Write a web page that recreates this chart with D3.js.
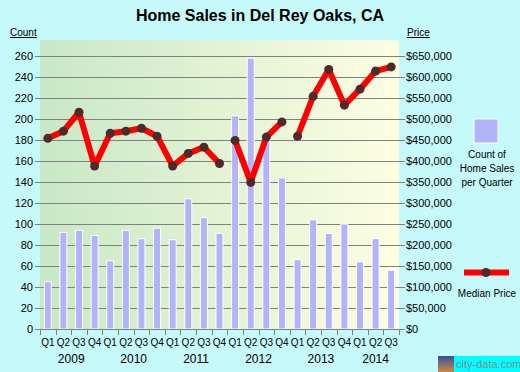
<!DOCTYPE html>
<html>
<head>
<meta charset="utf-8">
<script src="https://cdn.jsdelivr.net/npm/d3@7"></script>
<style>
  html, body { margin: 0; padding: 0; background: #c6f9f9; }
  svg { display: block; font-family: Arial, "Liberation Sans", sans-serif; }
</style>
</head>
<body>
<div id="chart"></div>
<script>
// Quarterly home sales, Del Rey Oaks CA (2009 Q1 .. 2014 Q3)
const years = ['2009', '2010', '2011', '2012', '2013', '2014'];
const quarterLabels = ['Q1','Q2','Q3','Q4','Q1','Q2','Q3','Q4','Q1','Q2','Q3','Q4',
  'Q1','Q2','Q3','Q4','Q1','Q2','Q3','Q4','Q1','Q2','Q3'];
const quarterYears = [
  '2009','2009','2009','2009','2010','2010','2010','2010','2011','2011','2011','2011',
  '2012','2012','2012','2012','2013','2013','2013','2013','2014','2014','2014'];
const salesCount = [45, 92, 94, 89, 65, 94, 86, 96, 85, 124, 106, 91,
  203, 258, 183, 144, 66, 104, 91, 100, 64, 86, 56];
const medianPrice = [454000, 471000, 516000, 388000, 466000, 471000, 478000, 459000,
  388000, 418000, 433000, 394000, 449000, 349000, 457000, 493000,
  459000, 554000, 618000, 533000, 571000, 614000, 624000];
// the price line is broken before these quarters
const priceSegmentStarts = [0, 12, 16];
const countTicks = d3.range(0, 261, 20);
const priceTicks = d3.range(0, 650001, 50000);

const width = 520, height = 372;
const plot = { left: 40, right: 399, top: 40, bottom: 329 };

const svg = d3.select('#chart').append('svg')
  .attr('width', width)
  .attr('height', height);

// Plot background gradient (green -> pale yellow)
const defs = svg.append('defs');
const grad = defs.append('linearGradient')
  .attr('id', 'bg-grad')
  .attr('x1', '0%').attr('x2', '100%')
  .attr('y1', '0%').attr('y2', '0%');
grad.append('stop').attr('offset', '0%').attr('stop-color', '#c8e8c6');
grad.append('stop').attr('offset', '100%').attr('stop-color', '#fdfee2');

svg.append('rect')
  .attr('x', plot.left).attr('y', plot.top)
  .attr('width', plot.right - plot.left)
  .attr('height', plot.bottom - plot.top)
  .attr('fill', 'url(#bg-grad)');

// Scales
const idx = d3.range(quarterLabels.length);
const x = d3.scaleBand().domain(idx).range([plot.left, plot.right]).padding(0);
const yCount = d3.scaleLinear().domain([0, 260]).range([plot.bottom, 56]);
const yPrice = d3.scaleLinear().domain([0, 650000]).range([plot.bottom, 56]);
const cx = i => x(i) + x.bandwidth() / 2;

// Gridlines
svg.append('g')
  .selectAll('line')
  .data(countTicks.filter(t => t > 0))
  .join('line')
  .attr('x1', plot.left).attr('x2', plot.right)
  .attr('y1', d => Math.round(yCount(d)) + 0.5)
  .attr('y2', d => Math.round(yCount(d)) + 0.5)
  .attr('stroke', '#808080')
  .attr('stroke-width', 1);

// Left axis (count)
const leftAxis = svg.append('g')
  .attr('transform', `translate(${plot.left},0)`)
  .call(d3.axisLeft(yCount).tickValues(countTicks).tickSize(5).tickPadding(2));
leftAxis.select('.domain').remove();
leftAxis.selectAll('line').attr('stroke', '#808080');
leftAxis.selectAll('text').attr('font-size', 11).attr('fill', '#000')
  .attr('font-family', 'Arial, "Liberation Sans", sans-serif');

// Right axis (price)
const rightAxis = svg.append('g')
  .attr('transform', `translate(${plot.right},0)`)
  .call(d3.axisRight(yPrice).tickValues(priceTicks).tickSize(6).tickPadding(1)
    .tickFormat(d => '$' + d3.format(',')(d)));
rightAxis.select('.domain').remove();
rightAxis.selectAll('line').attr('stroke', '#808080');
rightAxis.selectAll('text').attr('font-size', 11).attr('fill', '#000')
  .attr('font-family', 'Arial, "Liberation Sans", sans-serif');

// Bars
const barW = 7;
svg.append('g')
  .selectAll('rect')
  .data(salesCount)
  .join('rect')
  .attr('x', (d, i) => cx(i) - barW / 2)
  .attr('y', d => yCount(d))
  .attr('width', barW)
  .attr('height', d => plot.bottom - yCount(d))
  .attr('fill', '#b3b3fa')
  .attr('stroke', '#ffffff')
  .attr('stroke-width', 1);

// Bottom axis line + ticks at quarter boundaries
const xAxis = svg.append('g');
xAxis.append('line')
  .attr('x1', plot.left).attr('x2', plot.right)
  .attr('y1', plot.bottom + 0.5).attr('y2', plot.bottom + 0.5)
  .attr('stroke', '#808080');
xAxis.selectAll('line.tick')
  .data(idx.map(i => x(i)).concat([plot.right]))
  .join('line')
  .attr('class', 'tick')
  .attr('x1', d => Math.round(d) + 0.5).attr('x2', d => Math.round(d) + 0.5)
  .attr('y1', plot.bottom).attr('y2', plot.bottom + 6)
  .attr('stroke', '#808080');

xAxis.selectAll('text.q')
  .data(quarterLabels)
  .join('text')
  .attr('class', 'q')
  .attr('x', (d, i) => cx(i))
  .attr('y', 346)
  .attr('text-anchor', 'middle')
  .attr('font-size', 10)
  .attr('fill', '#000')
  .text(d => d);

xAxis.selectAll('text.yr')
  .data(years)
  .join('text')
  .attr('class', 'yr')
  .attr('x', yr => {
    const qs = idx.filter(i => quarterYears[i] === yr);
    return (x(qs[0]) + x(qs[qs.length - 1]) + x.bandwidth()) / 2;
  })
  .attr('y', 363)
  .attr('text-anchor', 'middle')
  .attr('font-size', 12)
  .attr('fill', '#000')
  .text(d => d);

// Median price line (broken into segments)
const line = d3.line()
  .x(d => cx(d.i))
  .y(d => yPrice(d.v));
const segments = priceSegmentStarts.map((s, k) => {
  const e = k + 1 < priceSegmentStarts.length ? priceSegmentStarts[k + 1] : medianPrice.length;
  return d3.range(s, e).map(i => ({ i, v: medianPrice[i] }));
});
svg.append('g')
  .selectAll('path')
  .data(segments)
  .join('path')
  .attr('d', line)
  .attr('fill', 'none')
  .attr('stroke', '#ff0000')
  .attr('stroke-width', 6)
  .attr('stroke-linejoin', 'round');

svg.append('g')
  .selectAll('circle')
  .data(medianPrice)
  .join('circle')
  .attr('cx', (d, i) => cx(i))
  .attr('cy', d => yPrice(d))
  .attr('r', 4.5)
  .attr('fill', '#4f2a2a');

// Title and axis captions
svg.append('text')
  .attr('x', 260).attr('y', 21)
  .attr('text-anchor', 'middle')
  .attr('font-size', 16)
  .attr('font-weight', 'bold')
  .attr('fill', '#000')
  .text('Home Sales in Del Rey Oaks, CA');

svg.append('text')
  .attr('x', 10).attr('y', 36)
  .attr('font-size', 10)
  .attr('text-decoration', 'underline')
  .attr('fill', '#000')
  .text('Count');

svg.append('text')
  .attr('x', 407).attr('y', 36)
  .attr('font-size', 10)
  .attr('text-decoration', 'underline')
  .attr('fill', '#000')
  .text('Price');

// Legend
const legend = svg.append('g');
legend.append('rect')
  .attr('x', 474).attr('y', 119)
  .attr('width', 24).attr('height', 24)
  .attr('fill', '#b3b3fa')
  .attr('stroke', '#ffffff');
['Count of', 'Home Sales', 'per Quarter'].forEach((t, k) => {
  legend.append('text')
    .attr('x', 487).attr('y', 158 + k * 14)
    .attr('text-anchor', 'middle')
    .attr('font-size', 10)
    .attr('fill', '#000')
    .text(t);
});
legend.append('line')
  .attr('x1', 464).attr('x2', 509)
  .attr('y1', 272.5).attr('y2', 272.5)
  .attr('stroke', '#ff0000')
  .attr('stroke-width', 6);
legend.append('circle')
  .attr('cx', 486).attr('cy', 272.5)
  .attr('r', 4.5)
  .attr('fill', '#4f2a2a');
legend.append('text')
  .attr('x', 487).attr('y', 297)
  .attr('text-anchor', 'middle')
  .attr('font-size', 10)
  .attr('fill', '#000')
  .text('Median Price');

// city-data.com badge
const badge = svg.append('g');
const skyGrad = defs.append('linearGradient')
  .attr('id', 'sky').attr('x1', 0).attr('x2', 0).attr('y1', 0).attr('y2', 1);
skyGrad.append('stop').attr('offset', '0%').attr('stop-color', '#3a4f9a');
skyGrad.append('stop').attr('offset', '100%').attr('stop-color', '#c8884a');
badge.append('rect')
  .attr('x', 438).attr('y', 356).attr('width', 16).attr('height', 16)
  .attr('fill', 'url(#sky)');
badge.append('rect')
  .attr('x', 454).attr('y', 356).attr('width', 66).attr('height', 16)
  .attr('fill', '#00ffff');
badge.append('text')
  .attr('x', 456).attr('y', 368)
  .attr('font-size', 11)
  .attr('fill', '#888888')
  .text('city-data.com');
</script>
</body>
</html>
